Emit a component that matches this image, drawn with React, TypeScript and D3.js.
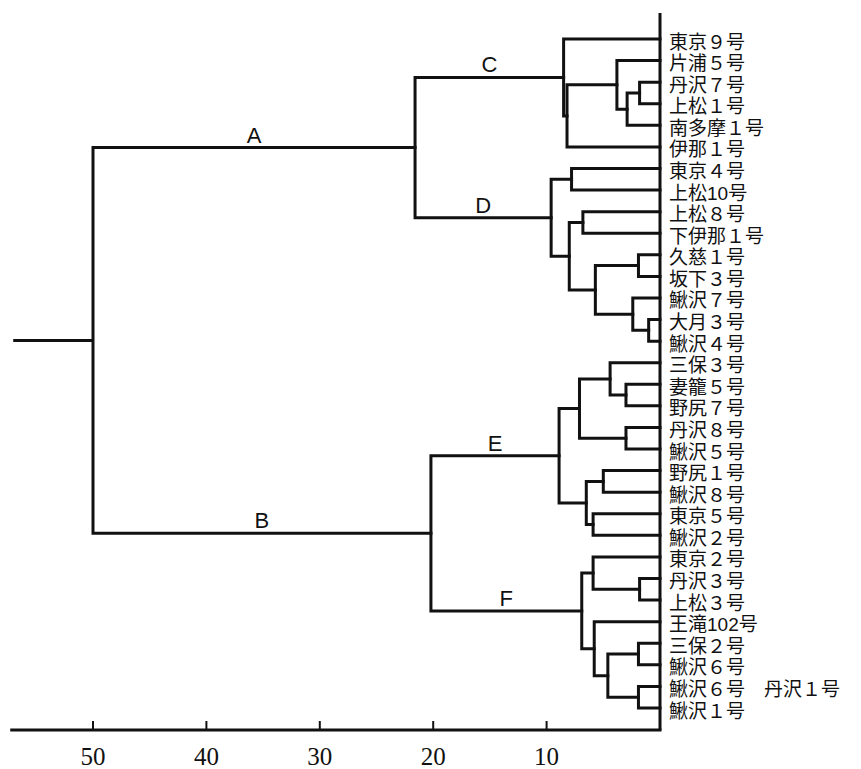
import React from "react";
import * as d3 from "d3";

// Leaf labels, top to bottom
const leafLabels = [
  "東京９号", "片浦５号", "丹沢７号", "上松１号", "南多摩１号", "伊那１号",
  "東京４号", "上松10号", "上松８号", "下伊那１号", "久慈１号", "坂下３号",
  "鰍沢７号", "大月３号", "鰍沢４号", "三保３号", "妻籠５号", "野尻７号",
  "丹沢８号", "鰍沢５号", "野尻１号", "鰍沢８号", "東京５号", "鰍沢２号",
  "東京２号", "丹沢３号", "上松３号", "王滝102号", "三保２号", "鰍沢６号",
  "鰍沢６号　丹沢１号", "鰍沢１号",
];

// Linkage: [childA, childB, distance]; leaves are 0..31, merge k becomes node 32+k
const merges: [number, number, number][] = [
  [2, 3, 1.8],    // 32
  [32, 4, 2.9],   // 33
  [1, 33, 3.8],   // 34
  [34, 5, 8.2],   // 35
  [0, 35, 8.5],   // 36 C
  [6, 7, 7.8],    // 37
  [8, 9, 6.8],    // 38
  [10, 11, 1.9],  // 39
  [13, 14, 1.0],  // 40
  [12, 40, 2.4],  // 41
  [39, 41, 5.7],  // 42
  [38, 42, 8.0],  // 43
  [37, 43, 9.6],  // 44 D
  [36, 44, 21.6], // 45 A
  [16, 17, 3.0],  // 46
  [15, 46, 4.4],  // 47
  [18, 19, 3.0],  // 48
  [47, 48, 7.1],  // 49
  [20, 21, 5.0],  // 50
  [22, 23, 5.9],  // 51
  [50, 51, 6.5],  // 52
  [49, 52, 8.9],  // 53 E
  [25, 26, 1.8],  // 54
  [24, 54, 5.9],  // 55
  [28, 29, 1.9],  // 56
  [30, 31, 1.9],  // 57
  [56, 57, 4.6],  // 58
  [27, 58, 5.8],  // 59
  [55, 59, 6.9],  // 60 F
  [53, 60, 20.2], // 61 B
  [45, 61, 50.0], // 62 root
];

const clusterNames = ["A", "B", "C", "D", "E", "F"];
const clusterNodes = [45, 61, 36, 44, 53, 60];

const tickValues = [10, 20, 30, 40, 50];
const axisMax = 57.3;

const W = 861;
const H = 769;

export default function App() {
  const xScale = d3.scaleLinear().domain([0, 50]).range([660, 93]);
  const nLeaf = leafLabels.length;
  const yScale = d3
    .scalePoint<number>()
    .domain(d3.range(nLeaf))
    .range([39, 708]);
  const axisY = 730;

  type N = { x: number; y: number; parent?: number };
  const nodes: N[] = [];
  for (let i = 0; i < nLeaf; i++) nodes.push({ x: xScale(0), y: yScale(i)! });
  merges.forEach(([a, b, d], k) => {
    const id = nLeaf + k;
    nodes.push({ x: xScale(d), y: (nodes[a].y + nodes[b].y) / 2 });
    nodes[a].parent = id;
    nodes[b].parent = id;
  });
  const rootId = nodes.length - 1;
  const root = nodes[rootId];

  const paths = merges.map(([a, b], k) => {
    const n = nodes[nLeaf + k];
    const A = nodes[a];
    const B = nodes[b];
    return `M${A.x},${A.y}H${n.x}V${B.y}H${B.x}`;
  });

  const stroke = "#111";
  const sw = 3;

  return (
    <svg
      width={W}
      height={H}
      style={{ position: "absolute", left: 0, top: 0, display: "block", background: "#fff" }}
    >
      <rect width={W} height={H} fill="#fff" />
      {/* root stem */}
      <line
        x1={xScale(axisMax) + 3}
        x2={root.x}
        y1={root.y}
        y2={root.y}
        stroke={stroke}
        strokeWidth={sw}
      />
      {paths.map((p, i) => (
        <path
          key={i}
          d={p}
          fill="none"
          stroke={stroke}
          strokeWidth={sw}
          strokeLinejoin="miter"
          strokeLinecap="square"
        />
      ))}
      {/* leaf baseline */}
      <line
        x1={xScale(0)}
        x2={xScale(0)}
        y1={13}
        y2={axisY}
        stroke={stroke}
        strokeWidth={sw}
      />
      {/* bottom axis */}
      <line
        x1={xScale(axisMax)}
        x2={xScale(0) + 1.5}
        y1={axisY}
        y2={axisY}
        stroke={stroke}
        strokeWidth={sw}
      />
      {tickValues.map((t) => (
        <g key={t}>
          <line
            x1={xScale(t)}
            x2={xScale(t)}
            y1={axisY - 9}
            y2={axisY}
            stroke={stroke}
            strokeWidth={2}
          />
          <text
            x={xScale(t)}
            y={765}
            textAnchor="middle"
            fontFamily="'Liberation Serif', 'DejaVu Serif', serif"
            fontSize={25}
            fill="#111"
          >
            {t}
          </text>
        </g>
      ))}
      {/* leaf labels */}
      {leafLabels.map((l, i) => (
        <text
          key={i}
          x={669}
          y={yScale(i)! + 3}
          dominantBaseline="central"
          fontFamily="'Liberation Sans', 'Noto Sans CJK JP', sans-serif"
          fontSize={19}
          fill="#111"
        >
          {l}
        </text>
      ))}
      {/* cluster letters */}
      {clusterNames.map((name, i) => {
        const n = nodes[clusterNodes[i]];
        const p = nodes[n.parent!];
        return (
          <text
            key={name}
            x={(n.x + p.x) / 2}
            y={n.y - 5}
            textAnchor="middle"
            fontFamily="'Liberation Sans', Arial, sans-serif"
            fontSize={22}
            fill="#111"
          >
            {name}
          </text>
        );
      })}
    </svg>
  );
}
